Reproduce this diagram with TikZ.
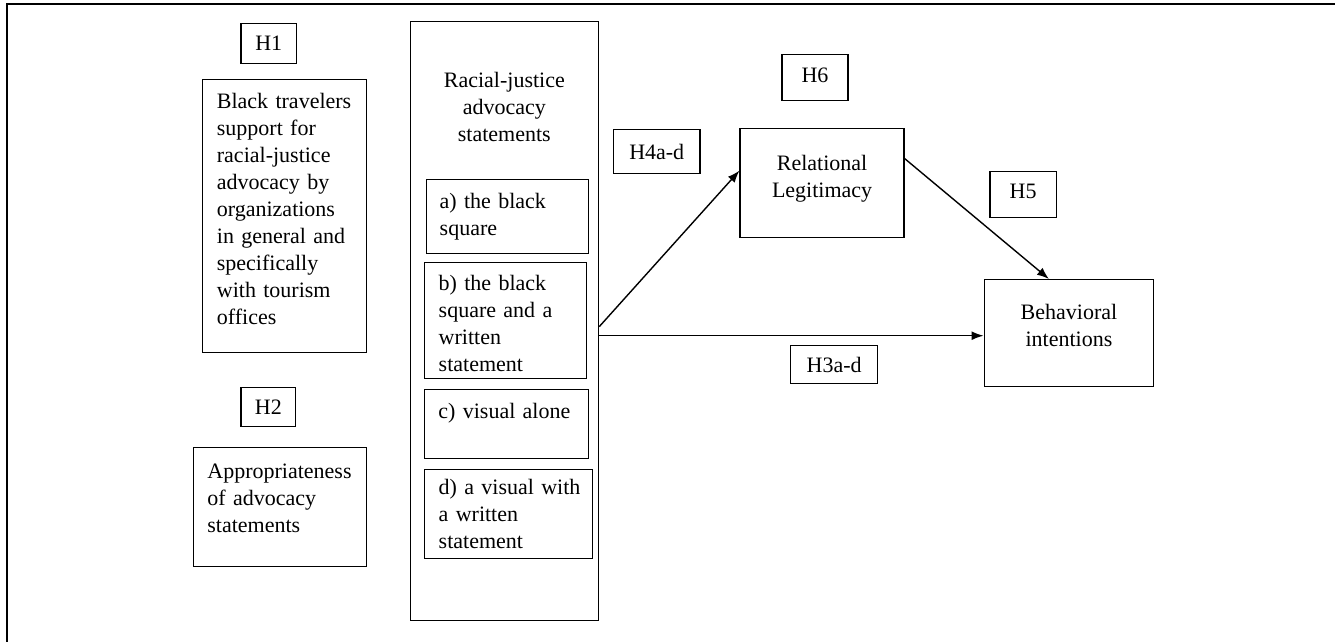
\documentclass[tikz,border=0pt]{standalone}
\usepackage{fontspec}
\setmainfont{Liberation Serif}
\usetikzlibrary{positioning,arrows.meta}
\newcommand{\pad}[1]{\rule[-#1]{0pt}{#1}}
\begin{document}
\begin{tikzpicture}[x=1pt,y=-1pt,
    font=\fontsize{22}{27}\selectfont,
    box/.style={draw,line width=1.4pt,inner sep=0pt,anchor=north west},
    hyp/.style={box,align=center},
    txt/.style={box,align=left,text width=#1},
    arr/.style={-{Latex[length=12pt,width=9pt]},line width=1.4pt}]
  \useasboundingbox (0,0) rectangle (1335,642);
  \draw[line width=2pt] (6.7,642) -- (6.7,4) -- (1335,4);
  \node[hyp,minimum width=55.5pt,minimum height=40pt] (h1) at (240.3,23) {H1};
  \node[txt=134.8pt,minimum width=163.8pt,minimum height=273pt] (trav) at (201.7,79)
    {Black travelers\\support for\\racial-justice\\advocacy by\\organizations\\in general and\\specifically\\with tourism\\offices\pad{15.4pt}};
  \node[hyp,minimum width=54.7pt,minimum height=39pt] (h2) at (240.3,387) {H2};
  \node[txt=145pt,minimum width=173.4pt,minimum height=119pt] (appr) at (192.5,447)
    {Appropriateness\\of advocacy\\statements\pad{17.6pt}};
  \node[box,minimum width=188.3pt,minimum height=599pt] (stmt) at (409.5,21) {};
  \node[align=center,inner sep=0pt,below=51.3pt of stmt.north] (stmttitle)
    {Racial-justice\\advocacy\\statements};
  \node[txt=135.5pt,minimum width=161.5pt,minimum height=74pt] (sqr) at (426,179)
    {a) the black\\square};
  \node[txt=133.5pt,minimum width=161.5pt,minimum height=116pt] (sqrtxt) at (424,262)
    {\rule{0pt}{21pt}b) the black\\square and a\\written\\statement};
  \node[txt=136pt,minimum width=164.2pt,minimum height=69pt] (vis) at (423.6,389)
    {c) visual alone\pad{27.4pt}};
  \node[txt=139.7pt,minimum width=167.7pt,minimum height=89pt] (vistxt) at (424,469)
    {\mbox{d) a visual with}\\a written\\statement};
  \node[hyp,minimum width=66pt,minimum height=46pt] (h6) at (781.3,54) {H6\pad{5.5pt}};
  \node[hyp,minimum width=86.7pt,minimum height=44pt] (h4) at (612.7,129) {H4a-d};
  \node[hyp,minimum width=164pt,minimum height=109pt] (rel) at (739.4,128)
    {Relational\\Legitimacy\pad{14.4pt}};
  \node[hyp,minimum width=66.5pt,minimum height=46pt] (h5) at (989.2,171) {H5\pad{7pt}};
  \node[hyp,minimum width=169.5pt,minimum height=107pt] (beh) at (983.5,279)
    {Behavioral\\intentions\pad{16.4pt}};
  \node[hyp,minimum width=87pt,minimum height=38pt] (h3) at (789.9,345) {H3a-d};
  \coordinate (out1) at ([yshift=-5.5pt]stmt.east);
  \coordinate (out2) at ([yshift=-14.5pt]stmt.east);
  \draw[arr] (out1) -- ([yshift=12.5pt]rel.west);
  \draw[arr] (out2) -- (out2 -| beh.west);
  \draw[arr] ([yshift=24.5pt]rel.east) -- ([xshift=-20pt]beh.north);
\end{tikzpicture}
\end{document}
